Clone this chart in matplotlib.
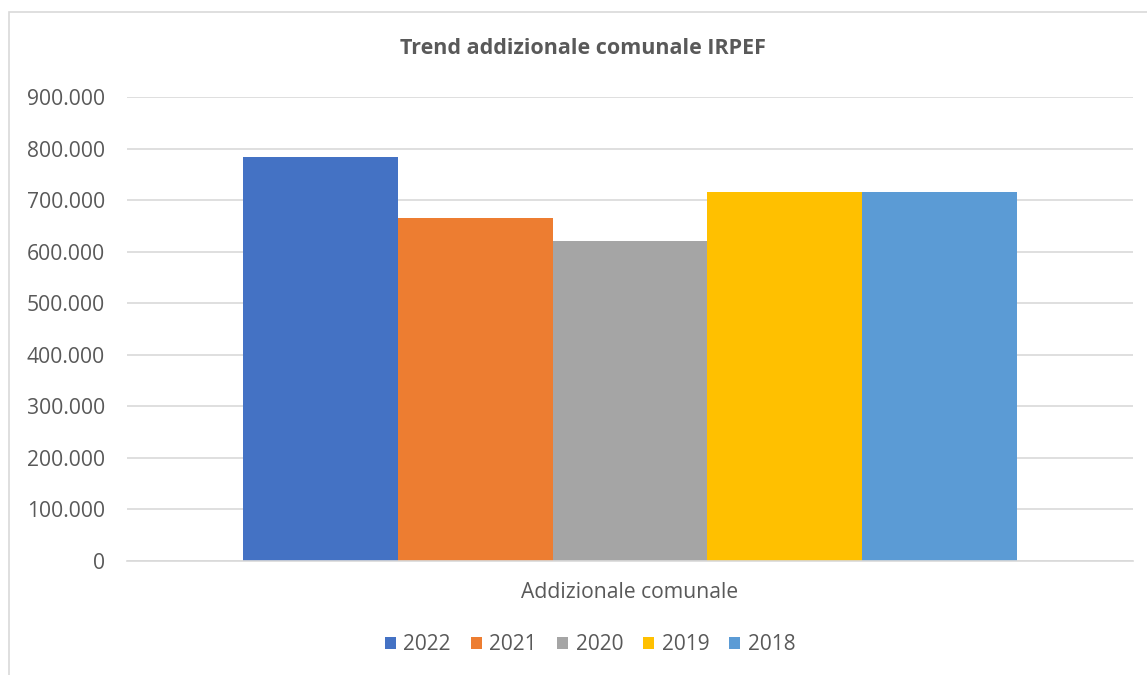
import matplotlib
matplotlib.use("Agg")
import matplotlib.pyplot as plt
from matplotlib.patches import Rectangle, Patch
from matplotlib.ticker import FuncFormatter

# Data
category = "Addizionale comunale"
years = ["2022", "2021", "2020", "2019", "2018"]
values = [783500, 665000, 620500, 715500, 715500]
colors = ["#4472C4", "#ED7D31", "#A5A5A5", "#FFC000", "#5B9BD5"]
y_ticks = [0, 100000, 200000, 300000, 400000, 500000, 600000, 700000, 800000, 900000]

TEXT = "#595959"
GRID = "#D9D9D9"
plt.rcParams["font.family"] = ["Open Sans", "DejaVu Sans"]

W, H = 1147, 675
fig = plt.figure(figsize=(W / 100, H / 100), dpi=100)

# chart frame
fig.patches.append(Rectangle((9 / W, -0.1), 1.2, 1 - 11.7 / H + 0.1,
                             transform=fig.transFigure, fill=False,
                             edgecolor=GRID, linewidth=1.2))

ax = fig.add_axes([127 / W, 1 - 561 / H, (1133 - 127) / W, (561 - 97) / H])

n = len(years)
bw = 1.0 / n
for i, (yr, v, c) in enumerate(zip(years, values, colors)):
    ax.bar(-0.5 + bw * (i + 0.5), v, width=bw, color=c, label=yr, zorder=2)

ax.set_xlim(-0.65, 0.65)
ax.set_ylim(0, 900000)
ax.set_yticks(y_ticks)
ax.yaxis.set_major_formatter(FuncFormatter(lambda v, p: f"{int(v):,}".replace(",", ".")))
ax.set_xticks([0])
ax.set_xticklabels([category])
ax.tick_params(axis="both", length=0, labelsize=15.2, labelcolor=TEXT)
ax.tick_params(axis="y", pad=16)
ax.tick_params(axis="x", pad=15)
ax.grid(axis="y", color=GRID, linewidth=1.2, zorder=0)
for s in ["left", "right", "top"]:
    ax.spines[s].set_visible(False)
ax.spines["bottom"].set_color(GRID)
ax.spines["bottom"].set_linewidth(1.2)

fig.text(583 / W, 1 - 48 / H, "Trend addizionale comunale IRPEF",
         ha="center", va="center", fontsize=15.5, fontweight="bold", color=TEXT)

handles = [Patch(facecolor=c, edgecolor="none") for c in colors]
leg = fig.legend(handles, years, loc="center", bbox_to_anchor=(590 / W, 1 - 645 / H),
                 ncol=n, frameon=False, fontsize=15, handlelength=0.55, handleheight=0.55,
                 handletextpad=0.35, columnspacing=0.95, labelcolor=TEXT)

fig.savefig("out.png", dpi=100)
